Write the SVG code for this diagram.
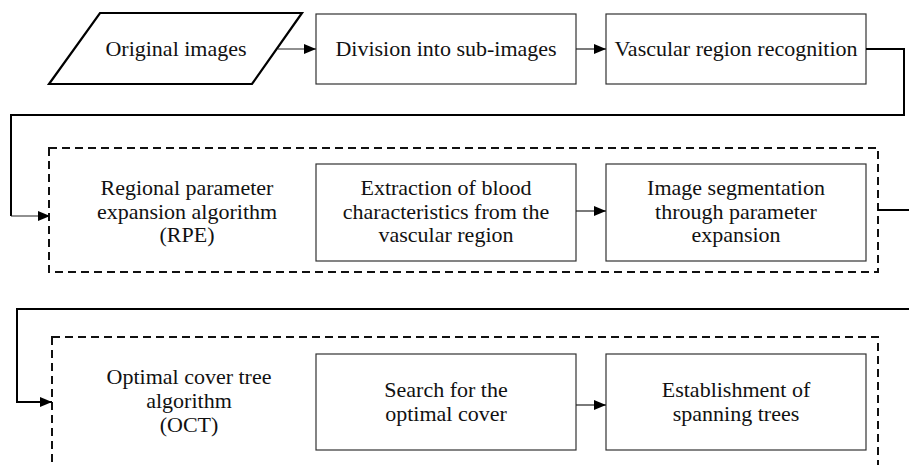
<svg xmlns="http://www.w3.org/2000/svg" width="909" height="465" viewBox="0 0 909 465">
<defs>
<marker id="ah" viewBox="0 0 12 10" refX="12" refY="5" markerWidth="12" markerHeight="10" markerUnits="userSpaceOnUse" orient="auto">
<path d="M0,0 L12,5 L0,10 Z" fill="#000"/>
</marker>
</defs>
<style>
text{font-family:'Liberation Serif','Times New Roman',serif;font-size:22px;fill:#111;text-anchor:middle}
.box{fill:#fff;stroke:#333;stroke-width:1.2}
.para{fill:#fff;stroke:#000;stroke-width:2.2}
.dash{fill:none;stroke:#111;stroke-width:2;stroke-dasharray:8 5}
.thin{fill:none;stroke:#222;stroke-width:1.2}
.thick{fill:none;stroke:#000;stroke-width:2}
</style>
<rect width="909" height="465" fill="#fff"/>
<g id="group-rpe"><rect class="dash" x="49" y="148" width="829" height="124"/>
<text x="187" y="195">Regional parameter</text><text x="187" y="219">expansion algorithm</text><text x="187" y="242">(RPE)</text></g>
<g id="group-oct"><rect class="dash" x="52" y="337" width="826" height="140"/>
<text x="189" y="384">Optimal cover tree</text><text x="189" y="408">algorithm</text><text x="189" y="432">(OCT)</text></g>
<g id="original"><polygon class="para" points="100,13 302,13 252,84 49,84"/><text x="176" y="56">Original images</text></g>
<g id="division"><rect class="box" x="316" y="14" width="260" height="70"/><text x="446" y="56">Division into sub-images</text></g>
<g id="vascular"><rect class="box" x="606" y="14" width="260" height="70"/><text x="736" y="56">Vascular region recognition</text></g>
<g id="extraction"><rect class="box" x="316" y="164" width="260" height="97"/><text x="446" y="195">Extraction of blood</text><text x="446" y="219">characteristics from the</text><text x="446" y="242">vascular region</text></g>
<g id="segmentation"><rect class="box" x="606" y="164" width="260" height="97"/><text x="736" y="195">Image segmentation</text><text x="736" y="219">through parameter</text><text x="736" y="242">expansion</text></g>
<g id="search"><rect class="box" x="316" y="354" width="260" height="96"/><text x="446" y="397">Search for the</text><text x="446" y="421">optimal cover</text></g>
<g id="spanning"><rect class="box" x="606" y="354" width="260" height="96"/><text x="736" y="397">Establishment of</text><text x="736" y="421">spanning trees</text></g>
<g id="connectors">
<path class="thin" d="M278,49 H316" marker-end="url(#ah)"/>
<path class="thin" d="M576,49 H606" marker-end="url(#ah)"/>
<path class="thick" d="M866,49 H904 V115 H11 V216"/>
<path class="thin" d="M11,216 H50" marker-end="url(#ah)"/>
<path class="thin" d="M576,211 H606" marker-end="url(#ah)"/>
<path class="thick" d="M878,210 H909"/>
<path class="thick" d="M909,309 H17 V402 H52" marker-end="url(#ah)"/>
<path class="thin" d="M576,405 H606" marker-end="url(#ah)"/>
</g>
</svg>
